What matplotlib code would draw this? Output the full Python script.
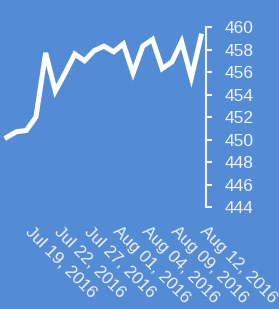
import matplotlib
matplotlib.use("Agg")
import numpy as np
import pandas as pd
from matplotlib import pyplot as plt
from matplotlib import transforms

# business days, Jul 15 - Aug 12 2016
dates = pd.bdate_range("2016-07-15", "2016-08-12")
values = [450.2, 450.7, 450.8, 452.0, 457.7, 454.3, 455.9, 457.6, 457.0, 457.9,
          458.3, 457.8, 458.5, 455.9, 458.3, 458.9, 456.3, 456.9, 458.7, 455.5,
          459.2]
tick_idx = [2, 5, 8, 11, 14, 17, 20]
y_ticks = [444, 446, 448, 450, 452, 454, 456, 458, 460]

bg = "#538cd5"
fg = "#f2f2f2"

plt.rcParams["font.family"] = ["Liberation Sans", "DejaVu Sans"]

fig = plt.figure(figsize=(2.79, 3.09), dpi=100, facecolor=bg)
ax = fig.add_axes([0.007, 0.330, 0.731, 0.5825], facecolor=bg)

x = np.arange(len(values))
ax.plot(x, values, color="white", lw=3.6, solid_joinstyle="miter")

ax.set_xlim(-0.5, 20.5)
ax.set_ylim(444, 460)

for side in ["top", "left", "bottom"]:
    ax.spines[side].set_visible(False)
ax.spines["right"].set_color(fg)
ax.spines["right"].set_linewidth(1.5)
ax.spines["right"].set_bounds(444, 460)

ax.yaxis.tick_right()
ax.set_yticks(y_ticks)
ax.tick_params(axis="y", colors=fg, labelsize=12.5, length=4, width=1.5, pad=9.5)

ax.set_xticks(tick_idx)
ax.set_xticklabels([dates[i].strftime("%b %d, %Y") for i in tick_idx])
ax.tick_params(axis="x", colors=fg, labelsize=12.3, length=0, pad=12)
shift = transforms.ScaledTranslation(7 / 100, 0, fig.dpi_scale_trans)
for lbl in ax.get_xticklabels():
    lbl.set_rotation(-45)
    lbl.set_ha("left")
    lbl.set_va("top")
    lbl.set_rotation_mode("anchor")
    lbl.set_transform(lbl.get_transform() + shift)

fig.savefig("out.png", dpi=100, facecolor=bg)
